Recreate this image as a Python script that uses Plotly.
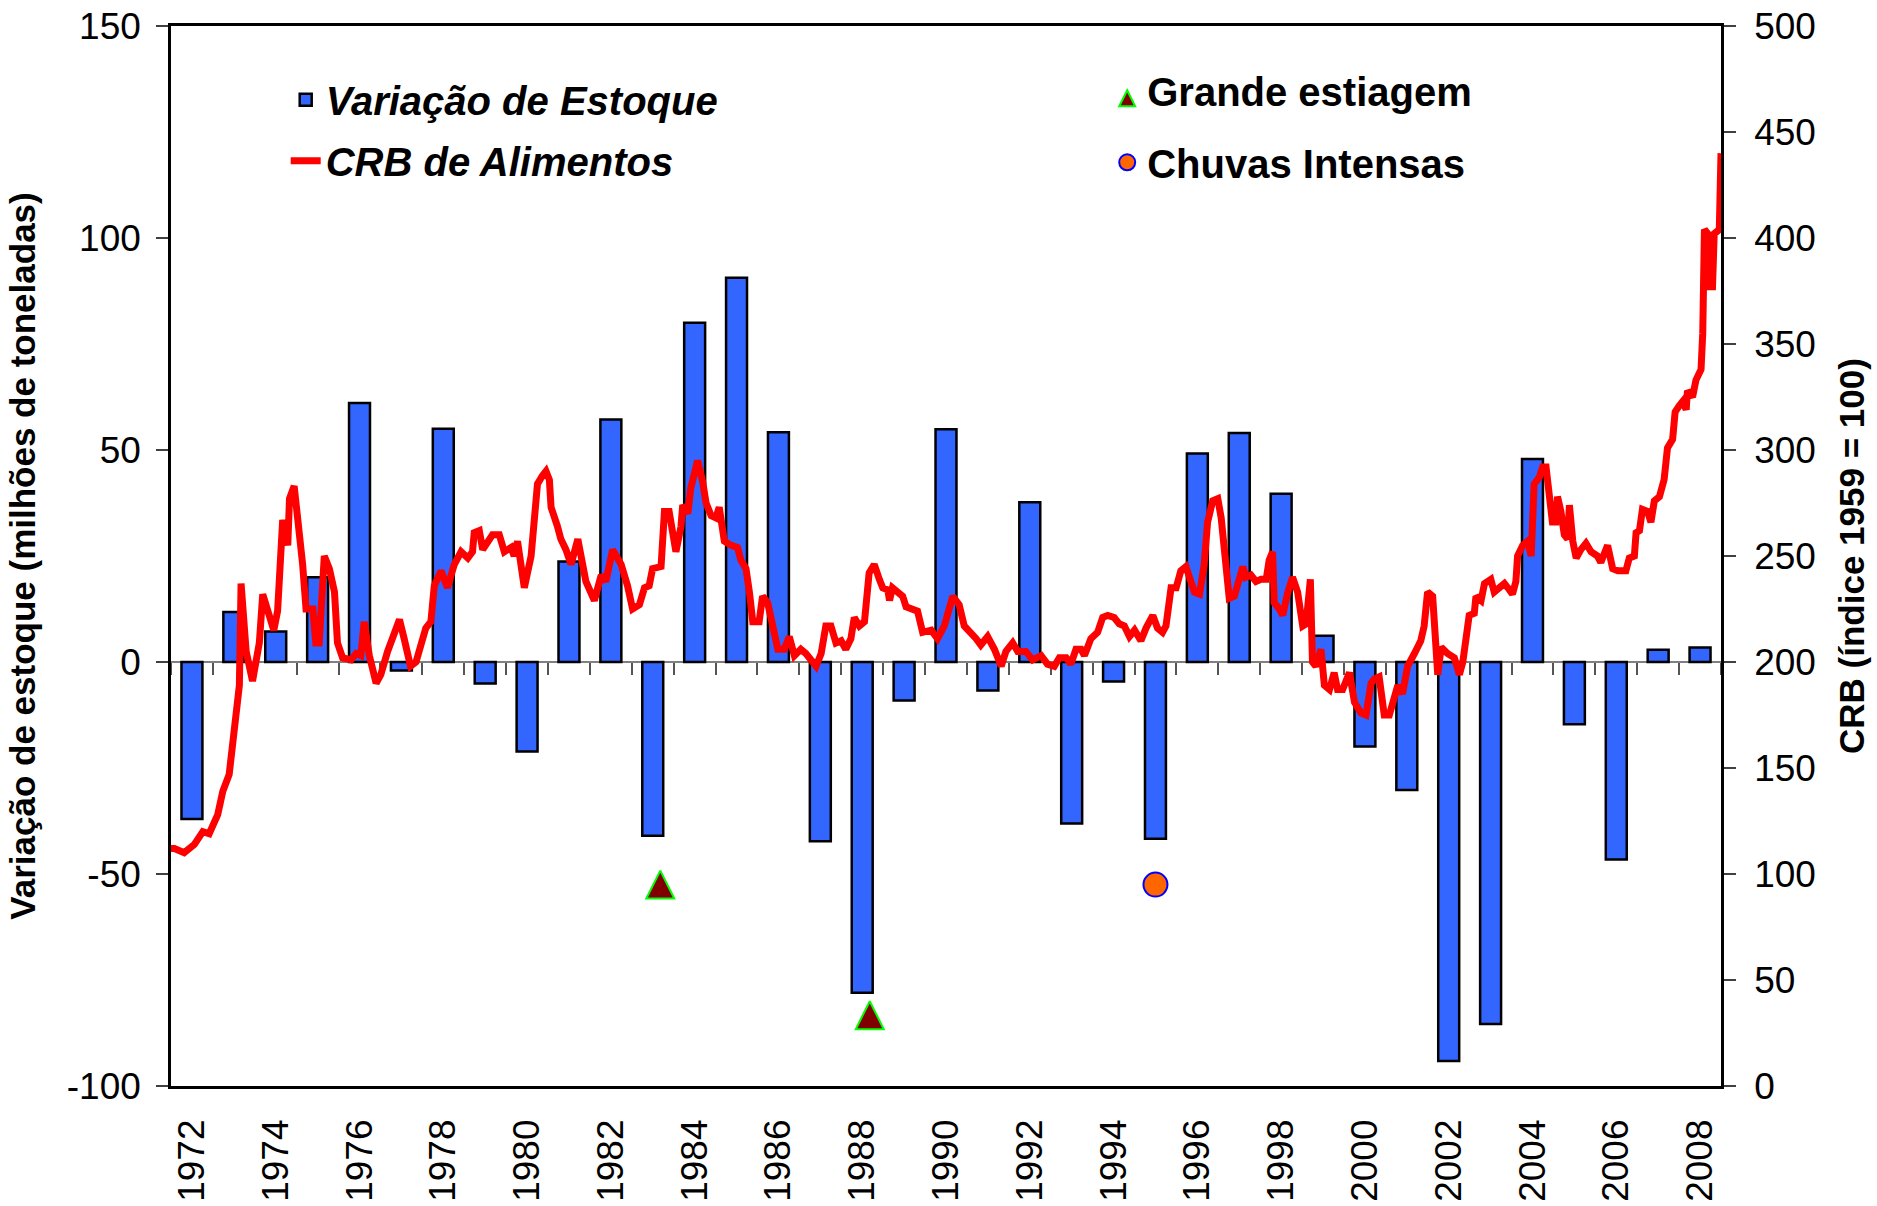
import plotly.graph_objects as go

# Variação anual de estoque (milhões de toneladas), 1972-2008
anos = list(range(1972, 2009))
variacao_estoque = [-37, 11.8, 7.2, 20, 61.1, -2, 55, -5.1, -21.1, 23.7,
                    57.2, -41, 80, 90.6, 54.2, -42.3, -78, -9.1, 54.9, -6.7,
                    37.7, -38.1, -4.6, -41.7, 49.2, 54, 39.7, 6.2, -19.9, -30.2,
                    -94.1, -85.4, 47.9, -14.7, -46.6, 2.9, 3.4]
anos_rotulos = list(range(1972, 2009, 2))
estoque_ticks = [-100, -50, 0, 50, 100, 150]
crb_ticks = list(range(0, 501, 50))

# CRB de Alimentos (índice 1959 = 100)
crb_datas = [
    1972.00, 1972.08, 1972.31, 1972.55, 1972.75, 1972.90, 1973.10, 1973.22, 1973.37, 1973.49,
    1973.61, 1973.65, 1973.77, 1973.92, 1974.08, 1974.16, 1974.28, 1974.42, 1974.51, 1974.63,
    1974.75, 1974.79, 1974.90, 1975.02, 1975.10, 1975.18, 1975.34, 1975.41, 1975.49, 1975.61,
    1975.73, 1975.85, 1975.92, 1976.04, 1976.24, 1976.36, 1976.47, 1976.55, 1976.67, 1976.83,
    1976.94, 1977.10, 1977.26, 1977.38, 1977.49, 1977.64, 1977.77, 1977.89, 1978.00, 1978.12,
    1978.20, 1978.36, 1978.51, 1978.67, 1978.83, 1978.99, 1979.10, 1979.14, 1979.26, 1979.34,
    1979.46, 1979.57, 1979.73, 1979.85, 1980.01, 1980.08, 1980.16, 1980.32, 1980.48, 1980.56,
    1980.63, 1980.75, 1980.83, 1980.91, 1980.95, 1981.10, 1981.18, 1981.30, 1981.42, 1981.58,
    1981.77, 1981.97, 1982.13, 1982.24, 1982.40, 1982.60, 1982.75, 1982.87, 1983.03, 1983.15,
    1983.26, 1983.34, 1983.54, 1983.62, 1983.73, 1983.89, 1984.01, 1984.05, 1984.17, 1984.24,
    1984.40, 1984.52, 1984.60, 1984.72, 1984.83, 1984.91, 1985.03, 1985.19, 1985.34, 1985.42,
    1985.54, 1985.62, 1985.70, 1985.85, 1985.93, 1986.05, 1986.17, 1986.29, 1986.44, 1986.56,
    1986.68, 1986.83, 1986.95, 1987.07, 1987.19, 1987.31, 1987.42, 1987.54, 1987.66, 1987.78,
    1987.89, 1988.01, 1988.09, 1988.21, 1988.33, 1988.44, 1988.56, 1988.68, 1988.76, 1988.88,
    1988.92, 1988.99, 1989.11, 1989.23, 1989.31, 1989.43, 1989.58, 1989.70, 1989.90, 1990.05,
    1990.21, 1990.41, 1990.56, 1990.68, 1990.84, 1990.96, 1991.07, 1991.23, 1991.39, 1991.55,
    1991.66, 1991.82, 1991.94, 1992.13, 1992.29, 1992.49, 1992.64, 1992.80, 1992.92, 1993.08,
    1993.19, 1993.31, 1993.43, 1993.51, 1993.66, 1993.82, 1993.94, 1994.06, 1994.21, 1994.33,
    1994.45, 1994.57, 1994.69, 1994.84, 1994.96, 1995.12, 1995.23, 1995.35, 1995.43, 1995.55,
    1995.67, 1995.78, 1995.90, 1996.02, 1996.10, 1996.22, 1996.33, 1996.41, 1996.53, 1996.65,
    1996.73, 1996.84, 1996.92, 1997.04, 1997.16, 1997.24, 1997.31, 1997.43, 1997.55, 1997.67,
    1997.79, 1997.86, 1997.94, 1997.98, 1998.10, 1998.18, 1998.30, 1998.41, 1998.53, 1998.65,
    1998.73, 1998.83, 1998.88, 1998.96, 1999.08, 1999.16, 1999.28, 1999.39, 1999.47, 1999.59,
    1999.75, 1999.87, 2000.02, 2000.14, 2000.26, 2000.34, 2000.45, 2000.57, 2000.69, 2000.77,
    2000.89, 2001.00, 2001.12, 2001.28, 2001.43, 2001.51, 2001.59, 2001.71, 2001.79, 2001.83,
    2001.91, 2002.06, 2002.22, 2002.34, 2002.42, 2002.49, 2002.57, 2002.69, 2002.73, 2002.85,
    2002.93, 2003.08, 2003.16, 2003.28, 2003.40, 2003.48, 2003.59, 2003.67, 2003.71, 2003.83,
    2003.95, 2004.03, 2004.10, 2004.22, 2004.30, 2004.38, 2004.45, 2004.53, 2004.61, 2004.65,
    2004.73, 2004.81, 2004.89, 2004.93, 2005.01, 2005.09, 2005.20, 2005.32, 2005.44, 2005.59,
    2005.67, 2005.83, 2005.95, 2006.07, 2006.26, 2006.34, 2006.46, 2006.50, 2006.58, 2006.65,
    2006.77, 2006.85, 2006.93, 2007.05, 2007.16, 2007.24, 2007.36, 2007.42, 2007.52, 2007.60,
    2007.68, 2007.71, 2007.83, 2007.91, 2008.03, 2008.07, 2008.11, 2008.19, 2008.22, 2008.30,
    2008.34, 2008.46, 2008.50]
crb_valores = [
    112, 112, 110, 114, 120, 119, 128, 139, 147, 169,
    189, 237, 205, 191, 209, 232, 224, 215, 224, 267,
    255, 277, 283, 263, 246, 225, 225, 209, 209, 250,
    244, 233, 209, 202, 201, 204, 203, 219, 203, 190,
    194, 205, 213, 220, 211, 198, 200, 208, 216, 219,
    236, 243, 235, 246, 252, 249, 252, 261, 262, 253,
    256, 260, 260, 252, 254, 250, 257, 235, 250, 271,
    284, 288, 290, 286, 273, 264, 258, 253, 246, 258,
    238, 229, 241, 238, 253, 246, 236, 225, 227, 235,
    236, 244, 245, 271, 271, 252, 264, 274, 270, 282,
    295, 285, 275, 269, 268, 273, 257, 255, 254, 248,
    244, 233, 219, 219, 231, 228, 216, 206, 206, 212,
    203, 206, 204, 201, 198, 204, 217, 217, 209, 210,
    206, 211, 221, 217, 219, 242, 246, 239, 235, 234,
    229, 235, 233, 231, 226, 225, 224, 214, 215, 211,
    217, 231, 227, 217, 214, 211, 208, 212, 206, 198,
    205, 209, 205, 205, 201, 203, 199, 198, 202, 202,
    199, 206, 206, 203, 211, 214, 221, 222, 221, 218,
    217, 212, 215, 210, 216, 222, 216, 214, 217, 235,
    235, 243, 245, 237, 233, 232, 246, 266, 276, 277,
    268, 246, 230, 231, 239, 245, 240, 241, 238, 239,
    239, 248, 252, 228, 225, 222, 233, 240, 233, 217,
    218, 239, 200, 198, 206, 189, 187, 195, 187, 187,
    195, 181, 176, 175, 190, 192, 193, 175, 175, 181,
    189, 185, 198, 204, 210, 217, 233, 231, 203, 194,
    207, 204, 202, 194, 200, 214, 222, 223, 231, 229,
    237, 239, 233, 235, 237, 235, 232, 238, 250, 255,
    257, 250, 284, 287, 292, 292, 278, 266, 266, 278,
    271, 260, 258, 274, 257, 249, 253, 256, 252, 250,
    247, 255, 244, 243, 243, 249, 250, 261, 262, 272,
    271, 266, 276, 278, 286, 301, 305, 318, 321, 323,
    319, 328, 325, 333, 338, 355, 404, 402, 377, 377,
    402, 404, 440]

# Eventos climáticos
estiagem_anos = [1983.18, 1988.18]
estiagem_valores = [-49.2, -80.0]
chuvas_anos = [1995.0]
chuvas_valores = [-52.5]

FONTE = "Liberation Sans, Arial, sans-serif"

fig = go.Figure()

fig.add_trace(go.Bar(
    x=anos, y=variacao_estoque, width=0.5, name="Variação de Estoque",
    marker=dict(color="#3366FF", line=dict(color="black", width=2.5)),
    legend="legend", legendgroup="a"))

fig.add_trace(go.Scatter(
    x=crb_datas, y=crb_valores, xaxis="x2", yaxis="y2", mode="lines",
    name="CRB de Alimentos", line=dict(color="#FF0000", width=7),
    legend="legend", legendgroup="b"))

fig.add_trace(go.Scatter(
    x=estiagem_anos, y=estiagem_valores, mode="markers", name="Grande estiagem",
    marker=dict(symbol="arrow-up", size=28, color="#800000",
                line=dict(color="#00FF00", width=2)),
    legend="legend2", legendgroup="c"))

fig.add_trace(go.Scatter(
    x=chuvas_anos, y=chuvas_valores, mode="markers", name="Chuvas Intensas",
    marker=dict(symbol="circle", size=24, color="#FF6600",
                line=dict(color="#0000FF", width=2)),
    legend="legend2", legendgroup="d"))

# eixo auxiliar só para as marcas de categoria sobre o zero
fig.add_trace(go.Scatter(
    x=[anos[0] - 0.5, anos[-1] + 0.5], y=[0, 0], xaxis="x3", mode="lines",
    line=dict(width=0), hoverinfo="skip", showlegend=False))

fig.update_layout(
    width=1877, height=1206,
    margin=dict(l=171, r=156, t=26, b=120, autoexpand=False),
    paper_bgcolor="white", plot_bgcolor="white",
    font=dict(family=FONTE, color="black"),
    xaxis=dict(
        range=[anos[0] - 0.5, anos[-1] + 0.5],
        tickvals=anos_rotulos, ticktext=[str(a) for a in anos_rotulos],
        tickangle=-90, ticks="", tickfont=dict(size=37),
        ticklabelstandoff=16, automargin=False,
        showline=True, mirror=True, linecolor="black", linewidth=2.5,
        showgrid=False, zeroline=False),
    xaxis2=dict(overlaying="x", anchor="y2", range=[1972.0, 2008.5],
                visible=False, automargin=False),
    xaxis3=dict(
        overlaying="x", anchor="free", position=0.4, automargin=False,
        range=[anos[0] - 0.5, anos[-1] + 0.5], tick0=anos[0] - 0.5, dtick=1,
        ticks="outside", ticklen=12, tickwidth=2, tickcolor="#555555",
        showline=True, linecolor="#808080", linewidth=2,
        showticklabels=False, showgrid=False, zeroline=False, layer="below traces"),
    yaxis=dict(
        range=[-100, 150], tickvals=estoque_ticks,
        ticktext=[str(v) for v in estoque_ticks],
        ticks="outside", ticklen=12, tickwidth=2, tickcolor="#404040",
        tickfont=dict(size=37), ticklabelstandoff=8, automargin=False,
        showline=True, linecolor="black", linewidth=2.5,
        showgrid=False, zeroline=False,
        title=dict(text="Variação de estoque (milhões de toneladas)",
                   font=dict(size=35, weight="bold"), standoff=21)),
    yaxis2=dict(
        overlaying="y", side="right", anchor="x",
        range=[0, 500], tickvals=crb_ticks, ticktext=[str(v) for v in crb_ticks],
        ticks="outside", ticklen=12, tickwidth=2, tickcolor="#404040",
        tickfont=dict(size=37), ticklabelstandoff=11, automargin=False,
        showline=True, linecolor="black", linewidth=2.5,
        showgrid=False, zeroline=False,
        title=dict(text="CRB (índice 1959 = 100)",
                   font=dict(size=35, weight="bold"), standoff=25)),
    legend=dict(
        x=0.074, y=0.961, xanchor="left", yanchor="top",
        bgcolor="rgba(0,0,0,0)", tracegroupgap=6,
        font=dict(size=40, weight="bold", style="italic")),
    legend2=dict(
        x=0.604, y=0.970, xanchor="left", yanchor="top",
        bgcolor="rgba(0,0,0,0)", tracegroupgap=17,
        font=dict(size=40, weight="bold")),
    showlegend=True,
)

fig.write_html("out.html", config={"displayModeBar": False},
               post_script="document.body.style.margin = '0';")
